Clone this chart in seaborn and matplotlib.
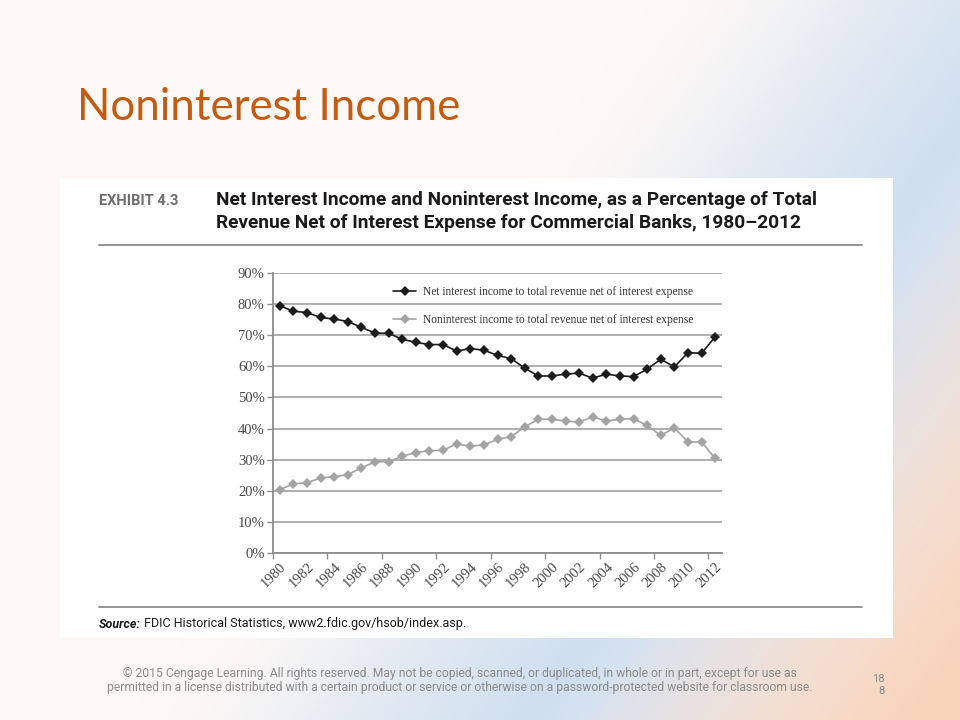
import numpy as np
import pandas as pd
import matplotlib
matplotlib.use("Agg")
import matplotlib.pyplot as plt
import seaborn as sns
from matplotlib.patches import Rectangle
from matplotlib.lines import Line2D

# ---------------- data ----------------
years = list(range(1980, 2013))
net_interest = [79.5, 77.7, 77.3, 75.7, 75.2, 74.4, 72.5, 70.7, 70.6, 68.7,
                67.7, 67.0, 67.0, 64.9, 65.7, 65.2, 63.5, 62.5, 59.4, 56.9,
                56.9, 57.5, 57.8, 56.2, 57.5, 56.9, 56.7, 59.1, 62.3, 59.8,
                64.4, 64.2, 69.5]
noninterest = [20.4, 22.2, 22.6, 24.1, 24.5, 25.2, 27.4, 29.3, 29.4, 31.1,
               32.3, 32.9, 33.0, 35.1, 34.3, 34.8, 36.5, 37.4, 40.5, 43.0,
               43.0, 42.4, 42.1, 43.8, 42.4, 43.0, 43.2, 41.0, 37.8, 40.2,
               35.7, 35.7, 30.4]
series_names = ["Net interest income to total revenue net of interest expense",
                "Noninterest income to total revenue net of interest expense"]
y_ticks = [0, 10, 20, 30, 40, 50, 60, 70, 80, 90]
y_labels = [f"{t}%" for t in y_ticks]

slide_title = "Noninterest Income"
exhibit = "EXHIBIT 4.3"
header = ["Net Interest Income and Noninterest Income, as a Percentage of Total",
          "Revenue Net of Interest Expense for Commercial Banks, 1980\u20132012"]
source_b = "Source:"
source_t = " FDIC Historical Statistics, www2.fdic.gov/hsob/index.asp."
footer = ["\u00a9 2015 Cengage Learning. All rights reserved. May not be copied, scanned, or duplicated, in whole or in part, except for use as",
          "permitted in a license distributed with a certain product or service or otherwise on a password-protected website for classroom use."]
page = "18\n8"

df = pd.DataFrame({"year": years * 2,
                   "value": net_interest + noninterest,
                   "series": [series_names[0]] * len(years) + [series_names[1]] * len(years)})

sns.set_theme(style="white")
W, H = 960, 720
fig = plt.figure(figsize=(9.6, 7.2), dpi=100)

# ---------------- background gradient ----------------
bg = fig.add_axes([0, 0, 1, 1])
u = np.linspace(0, 1, 480)[None, :]
v = np.linspace(0, 1, 360)[:, None]
cream = np.array([254, 249, 246]) / 255
blue = np.array([207, 223, 240]) / 255
peach = np.array([248, 211, 186]) / 255
s = u + 0.55 * v
wb = np.clip(1 - np.abs(s - 1.1) / 0.42, 0, 1) * np.clip((s - 0.6) / 0.3, 0, 1)
wp = np.clip((s - 1.15) / 0.35, 0, 1)
wb = wb * (1 - wp)
img = cream * (1 - wb - wp)[..., None] + blue * wb[..., None] + peach * wp[..., None]
bg.imshow(img, extent=[0, 1, 0, 1], aspect="auto", origin="upper")
bg.set_xlim(0, 1); bg.set_ylim(0, 1)
bg.axis("off")

def fx(px):
    return px / W

def fy(py):
    return 1 - py / H

# white panel
bg.add_patch(Rectangle((fx(60), fy(638)), fx(893) - fx(60), fy(178) - fy(638),
                       facecolor="white", edgecolor="none", zorder=2))
# rules
bg.add_line(Line2D([fx(99), fx(862)], [fy(245), fy(245)], color="#8c8c8c", lw=1.3, zorder=3))
bg.add_line(Line2D([fx(99), fx(862)], [fy(607), fy(607)], color="#8c8c8c", lw=1.3, zorder=3))

# ---------------- texts ----------------
fig.text(fx(77), fy(107), slide_title, color="#C55A11", fontsize=31.5,
         family=["Lato", "DejaVu Sans"], va="center", ha="left")
cond = ["Liberation Sans Narrow", "Roboto", "DejaVu Sans"]
fig.text(fx(99), fy(201), exhibit, color="#6e6e6e", fontsize=10.5, fontweight="bold",
         family=cond, va="center", ha="left")
fig.text(fx(216), fy(200), header[0], color="#1a1a1a", fontsize=13.8, fontweight="bold",
         family=cond, va="center", ha="left")
fig.text(fx(216), fy(223), header[1], color="#1a1a1a", fontsize=13.8, fontweight="bold",
         family=cond, va="center", ha="left")
t_src = fig.text(fx(99), fy(624), source_b, color="#1a1a1a", fontsize=9.0, fontweight="bold",
                 style="italic", family=cond, va="center", ha="left")
fig.canvas.draw()
bb = t_src.get_window_extent(renderer=fig.canvas.get_renderer())
fig.text(bb.x1 / W, fy(624), source_t, color="#1a1a1a", fontsize=9.0,
         family=cond, va="center", ha="left")
fig.text(fx(460), fy(673), footer[0], color="#8a8a8a", fontsize=8.7,
         family=cond, va="center", ha="center")
fig.text(fx(460), fy(688), footer[1], color="#8a8a8a", fontsize=8.7,
         family=cond, va="center", ha="center")
fig.text(fx(885), fy(685), page, color="#8a8a8a", fontsize=8,
         family=cond, va="center", ha="right", linespacing=1.15, multialignment="right")

# ---------------- chart ----------------
ax = fig.add_axes([fx(273), fy(553), fx(722) - fx(273), fy(273) - fy(553)])
ax.set_facecolor("white")
palette = {series_names[0]: "#1c1c1c", series_names[1]: "#a3a3a3"}
sns.lineplot(data=df, x="year", y="value", hue="series", palette=palette,
             marker="D", markersize=5.5, markeredgewidth=0, linewidth=1.2,
             ax=ax, zorder=5)
ax.set_xlim(years[0] - 0.5, years[-1] + 0.5)
ax.set_ylim(y_ticks[0], y_ticks[-1])
ax.set_yticks(y_ticks)
ax.set_yticklabels(y_labels)
ax.set_xticks(years[::2])
ax.set_xticklabels([str(y) for y in years[::2]], rotation=45, ha="right",
                   rotation_mode="anchor")
ax.set_xticks([y - 0.5 for y in years[::4]], minor=True)
ax.tick_params(axis="x", which="major", length=0, pad=5)
ax.tick_params(axis="x", which="minor", length=4, width=1, color="#8c8c8c", direction="out", bottom=True)
ax.tick_params(axis="y", length=4, width=1, color="#8c8c8c", direction="out", left=True, pad=2)
for lab in ax.get_xticklabels() + ax.get_yticklabels():
    lab.set_family(["Liberation Serif", "DejaVu Serif"])
    lab.set_fontsize(10.5)
    lab.set_color("#4a4a4a")
ax.set_xlabel("")
ax.set_ylabel("")
ax.grid(axis="y", color="#a8a8a8", lw=1.3)
ax.grid(axis="x", visible=False)
for sp in ["top", "right"]:
    ax.spines[sp].set_visible(False)
for sp in ["left", "bottom"]:
    ax.spines[sp].set_color("#8c8c8c")
    ax.spines[sp].set_linewidth(1.3)

leg = ax.legend(loc="upper left", bbox_to_anchor=(0.245, 0.99), frameon=False,
                handlelength=2.0, labelspacing=1.35, handletextpad=0.6,
                prop={"family": ["Liberation Serif", "DejaVu Serif"], "size": 8.3})
for t in leg.get_texts():
    t.set_color("#333333")
leg.set_zorder(6)

fig.savefig("out.png", dpi=100)
